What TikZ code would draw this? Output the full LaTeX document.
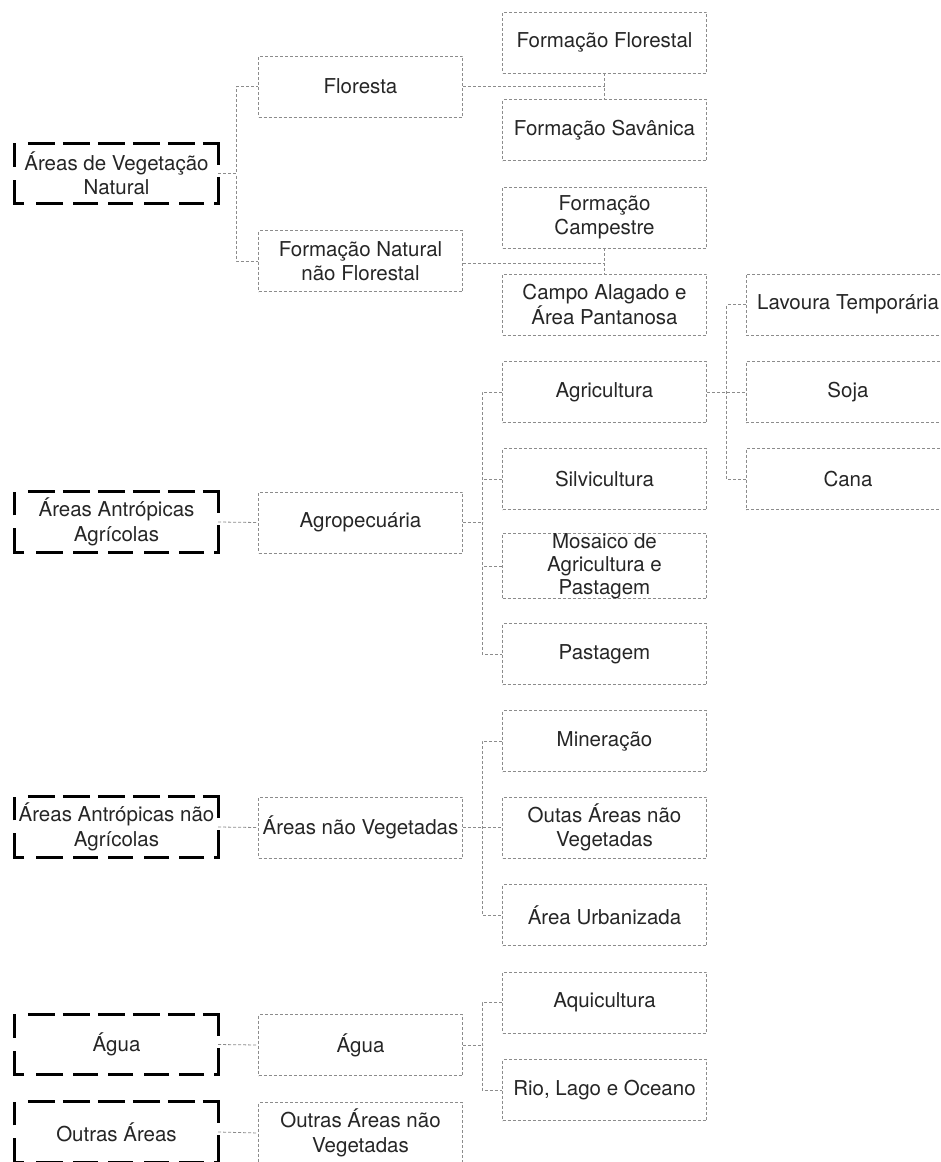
\documentclass[tikz,border=0pt]{standalone}
\usepackage{fontspec}
\setmainfont{TeX Gyre Heros}
\definecolor{txt}{HTML}{262626}
\definecolor{thin}{HTML}{8C8C8C}
\tikzset{
  x=1pt, y=-1pt,
  every node/.style={font=\fontsize{20.5}{24.5}\selectfont, text=txt, align=center, inner sep=0pt},
  thinbox/.style={draw=thin, line width=0.8pt, dash pattern=on 3pt off 2pt, minimum width=204pt, minimum height=61pt},
  thickbox/.style={minimum width=203pt, minimum height=60pt},
  conn/.style={draw=thin, line width=0.8pt, dash pattern=on 3pt off 2pt},
  thickline/.style={draw=black, line width=3pt, line cap=butt, line join=miter,
    dash pattern=on 0pt off 13pt on 27pt off 8pt on 27pt off 8pt on 27pt off 8pt on 27pt off 8pt on 27pt off 8pt on 37pt off 12pt on 31pt off 10pt on 25pt off 10pt on 25pt off 11pt on 25pt off 10pt on 25pt off 10pt on 27pt off 12pt on 33pt off 13pt on 22pt}
}
\newcommand\thickframe[1]{\draw[thickline] (#1.north west) -- (#1.north east) -- (#1.south east) -- (#1.south west) -- cycle;}
\begin{document}
\begin{tikzpicture}
\useasboundingbox (0,0) rectangle (941,1162);
\fill[white] (0,0) rectangle (941,1162);
\clip (0,0) rectangle (941,1162);

% column 0 (thick)
\node[thickbox] (veg) at (116.5,173.5) {Áreas de Vegetação\\Natural};
\node[thickbox] (aaa) at (116.5,522) {Áreas Antrópicas\\Agrícolas};
\node[thickbox] (anag) at (116.5,827) {Áreas Antrópicas não\\Agrícolas};
\node[thickbox] (agua0) at (116.5,1044.5) {Água};
\node[thickbox] (out0) at (116.5,1132) {Outras Áreas};
\foreach \n in {veg,aaa,anag,agua0,out0} {\thickframe{\n}}

% column 1
\node[thinbox] (flo) at (360.5,86.5) {Floresta};
\node[thinbox] (fnnf) at (360.5,261) {Formação Natural\\não Florestal};
\node[thinbox] (agp) at (360.5,522.5) {Agropecuária};
\node[thinbox] (anv) at (360.5,827.5) {Áreas não Vegetadas};
\node[thinbox] (agua1) at (360.5,1045) {Água};
\node[thinbox] (oanv) at (360.5,1133) {Outras Áreas não\\Vegetadas};

% column 2
\node[thinbox] (ff) at (604.5,42.5) {Formação Florestal};
\node[thinbox] (fs) at (604.5,130) {Formação Savânica};
\node[thinbox] (fc) at (604.5,217.5) {Formação\\Campestre};
\node[thinbox] (cap) at (604.5,304.5) {Campo Alagado e\\Área Pantanosa};
\node[thinbox] (agric) at (604.5,392) {Agricultura};
\node[thinbox] (silv) at (604.5,479) {Silvicultura};
\node[thinbox, font=\fontsize{20.5}{23}\selectfont] (mos) at (604.5,566) {Mosaico de\\Agricultura e\\Pastagem};
\node[thinbox] (past) at (604.5,654) {Pastagem};
\node[thinbox] (min) at (604.5,741) {Mineração};
\node[thinbox] (oanv2) at (604.5,827.5) {Outas Áreas não\\Vegetadas};
\node[thinbox] (urb) at (604.5,915) {Área Urbanizada};
\node[thinbox] (aqui) at (604.5,1002.5) {Aquicultura};
\node[thinbox] (rio) at (604.5,1090) {Rio, Lago e Oceano};

% column 3
\node[thinbox] (lav) at (848,304.5) {Lavoura Temporária};
\node[thinbox] (soja) at (848,392) {Soja};
\node[thinbox] (cana) at (848,479) {Cana};

% connectors
\draw[conn] (veg.east) -- ++(18,0) |- (flo.west);
\draw[conn] (veg.east) -- ++(18,0) |- (fnnf.west);
\draw[conn] (flo.east) -- (flo.east -| ff.south);
\draw[conn] (ff.south) -- (fs.north);
\draw[conn] ([yshift=-2pt]fnnf.east) -- ([yshift=-2pt]fnnf.east -| fc.south);
\draw[conn] (fc.south) -- (cap.north);

\draw[conn] (aaa.east) -- (agp.west);
\draw[conn] (agp.east) -- ++(20,0);
\draw[conn] (agric.west) -- ++(-20,0) |- (past.west);
\draw[conn] (silv.west) -- ++(-20,0);
\draw[conn] (mos.west) -- ++(-20,0);
\draw[conn] (agric.east) -- (soja.west);
\draw[conn] (lav.west) -- ++(-19,0) |- (cana.west);

\draw[conn] (anag.east) -- (anv.west);
\draw[conn] (anv.east) -- (oanv2.west);
\draw[conn] (min.west) -- ++(-20,0) |- (urb.west);

\draw[conn] (agua0.east) -- (agua1.west);
\draw[conn] (agua1.east) -- ++(20,0);
\draw[conn] (aqui.west) -- ++(-20,0) |- (rio.west);

\draw[conn] (out0.east) -- (oanv.west);
\end{tikzpicture}
\end{document}
